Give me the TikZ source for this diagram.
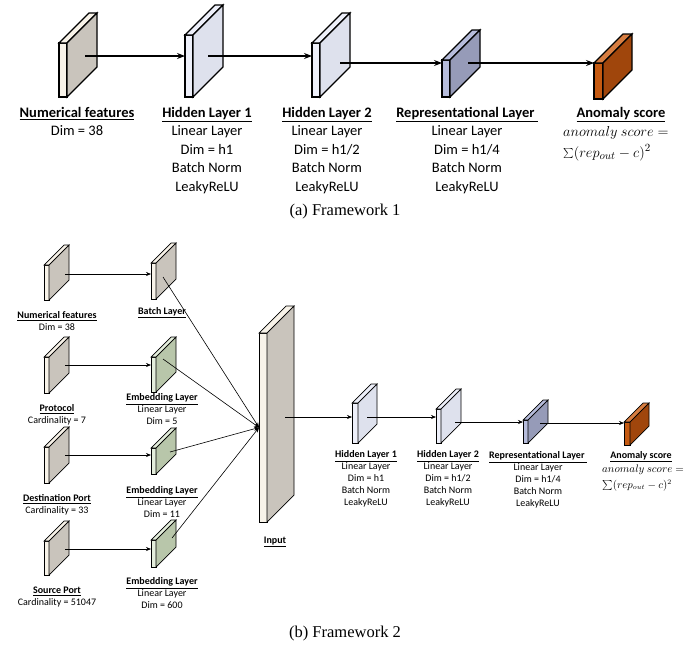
\documentclass[tikz,border=0pt]{standalone}
\usepackage{fontspec}
\setmainfont{Carlito}
\newfontfamily\capfont{Liberation Serif}
\usepackage{tikz}
\usetikzlibrary{arrows.meta,calc,positioning}
\definecolor{slabcream}{RGB}{248,243,233}
\definecolor{slabtaupe}{RGB}{201,196,188}
\definecolor{slablav}{RGB}{238,240,250}
\definecolor{slablavside}{RGB}{222,225,237}
\definecolor{slabrep}{RGB}{182,188,219}
\definecolor{slabrepside}{RGB}{150,155,184}
\definecolor{slaborange}{RGB}{197,90,17}
\definecolor{slaborangeside}{RGB}{160,70,12}
\definecolor{slaborangetop}{RGB}{215,125,65}
\definecolor{slabgreen}{RGB}{228,238,220}
\definecolor{slabgreenside}{RGB}{184,198,170}
\tikzset{slab/.style={draw,inner sep=0pt,outer sep=0pt},
         link/.style={-{Stealth[length=8pt,width=6pt]}},
         small link/.style={-{Stealth[length=5pt,width=4pt]}},
         lab/.style={align=center,inner sep=0pt,anchor=north,font=\fontsize{14.5}{18.5}\selectfont},
         small lab/.style={lab,font=\fontsize{10}{12}\selectfont},
         eq/.style={align=left,inner sep=0pt,anchor=north west,font=\fontsize{15.5}{18}\selectfont},
         small eq/.style={eq,font=\fontsize{10.5}{11}\selectfont},
            }
% name, front corner, width, height, depth, front, side, top
\newcommand{\slab}[8]{%
  \node[slab,fill=#6,minimum width=#3pt,minimum height=#4pt,anchor=south west] (#1) at #2 {};
  \filldraw[fill=#8] (#1.north west) -- (#1.north east) -- ++(#5,-#5) -- ++(-#3,0) -- cycle;
  \filldraw[fill=#7] (#1.north east) -- (#1.south east) -- ++(#5,-#5) -- ++(0,-#4) -- cycle;
}

\begin{document}
\begin{tikzpicture}[x=1pt,y=-1pt]
    \useasboundingbox (0,0) rectangle (692,654);

    % Framework 1
    \begin{scope}[line width=1.1pt]
    \slab{nf}{(59,97)}{8}{54}{30}{slabcream}{slabtaupe}{slabcream}
    \slab{h1}{(185,97)}{8}{62}{30}{slablav}{slablavside}{slablav}
    \slab{h2}{(312,97)}{8}{54}{30}{slablav}{slablavside}{slablav}
    \slab{rep}{(442,97)}{8}{37}{30}{slabrep}{slabrepside}{slabrep}
    \slab{an}{(594,99)}{9}{36}{29}{slaborange}{slaborangeside}{slaborangetop}

    \coordinate (nf-o) at (85,56);
    \coordinate (h1-o) at (208,56);
    \coordinate (h2-o) at (340,63);
    \coordinate (rep-o) at (468,63);
    \draw[link] (nf-o) -- (nf-o -| h1.west);
    \draw[link] (h1-o) -- (h1-o -| h2.west);
    \draw[link] (h2-o) -- (h2-o -| rep.west);
    \draw[link] (rep-o) -- (rep-o -| an.west);
    \end{scope}

    \node[lab] (nf-lab) at (77,107) {\underline{\textbf{Numerical features}}\\Dim = 38};
    \node[lab] (h1-lab) at (207,107) {\underline{\textbf{Hidden Layer 1}}\\Linear Layer\\Dim = h1\\Batch Norm\\LeakyReLU};
    \node[lab] (h2-lab) at (327,107) {\underline{\textbf{Hidden Layer 2}}\\Linear Layer\\Dim = h1/2\\Batch Norm\\LeakyReLU};
    \node[lab] (rep-lab) at (467,107) {\underline{\textbf{Representational Layer\ }}\\Linear Layer\\Dim = h1/4\\Batch Norm\\LeakyReLU};
    \node[lab] (an-lab) at (621,107) {\underline{\textbf{Anomaly score}}};
    \node[eq] (an-eq) at (563,126) {$anomaly\ score =$\\[3pt]$\sum(rep_{out}-c)^2$};

    \node[font=\capfont\fontsize{16.5}{20}\selectfont] (cap-a) at (345,212) {(a) Framework 1};

    % Framework 2
    \begin{scope}[line width=0.7pt]
    \slab{nfb}{(44,300)}{5}{35}{20}{slabcream}{slabtaupe}{slabcream}
    \slab{pr}{(44,393)}{5}{36}{20}{slabcream}{slabtaupe}{slabcream}
    \slab{dp}{(44,483)}{5}{36}{20}{slabcream}{slabtaupe}{slabcream}
    \slab{sp}{(44,575)}{5}{34}{20}{slabcream}{slabtaupe}{slabcream}
    \slab{bl}{(151,299)}{5}{36}{20}{slabcream}{slabtaupe}{slabcream}
    \slab{e1}{(151,392)}{5}{35}{20}{slabgreen}{slabgreenside}{slabgreen}
    \slab{e2}{(151,474)}{5}{26}{20}{slabgreen}{slabgreenside}{slabgreen}
    \slab{e3}{(151,567)}{5}{27}{20}{slabgreen}{slabgreenside}{slabgreen}
    \slab{inp}{(259,522)}{8}{189}{27}{slabcream}{slabtaupe}{slabcream}
    \slab{hb1}{(352,443)}{6}{40}{19}{slablav}{slablavside}{slablav}
    \slab{hb2}{(436,443)}{5}{34}{20}{slablav}{slablavside}{slablav}
    \slab{rb}{(523,443)}{5}{23}{20}{slabrep}{slabrepside}{slabrep}
    \slab{ab}{(624,445)}{6}{23}{19}{slaborange}{slaborangeside}{slaborangetop}
    \end{scope}

    \begin{scope}[line width=0.6pt]
    \coordinate (nfb-o) at (65,274);
    \coordinate (pr-o) at (65,365);
    \coordinate (dp-o) at (65,455);
    \coordinate (sp-o) at (65,549);
    \draw[small link] (nfb-o) -- (nfb-o -| bl.west);
    \draw[small link] (pr-o) -- (pr-o -| e1.west);
    \draw[small link] (dp-o) -- (dp-o -| e2.west);
    \draw[small link] (sp-o) -- (sp-o -| e3.west);

    \coordinate (bl-o) at (163,277);
    \coordinate (e1-o) at (163,359);
    \coordinate (e2-o) at (170,452);
    \coordinate (e3-o) at (172,538);
    \draw[small link] (bl-o) -- (inp.west);
    \draw[small link] (e1-o) -- (inp.west);
    \draw[small link] (e2-o) -- (inp.west);
    \draw[small link] (e3-o) -- (inp.west);

    \coordinate (inp-o) at (285,417);
    \coordinate (hb1-o) at (367,417);
    \coordinate (hb2-o) at (455,422);
    \coordinate (rb-o) at (540,423);
    \draw[small link] (inp-o) -- (inp-o -| hb1.west);
    \draw[small link] (hb1-o) -- (hb1-o -| hb2.west);
    \draw[small link] (hb2-o) -- (hb2-o -| rb.west);
    \draw[small link] (rb-o) -- (rb-o -| ab.west);
    \end{scope}

    \node[small lab] (nfb-lab) at (57,311.5) {\underline{\textbf{Numerical features}}\\Dim = 38};
    \node[small lab] (pr-lab) at (57,404.5) {\underline{\textbf{Protocol}}\\Cardinality = 7};
    \node[small lab] (dp-lab) at (57,494.5) {\underline{\textbf{Destination Port}}\\Cardinality = 33};
    \node[small lab] (sp-lab) at (57,586.5) {\underline{\textbf{Source Port}}\\Cardinality = 51047};
    \node[small lab] (bl-lab) at (162,307.5) {\underline{\textbf{Batch Layer}}};
    \node[small lab] (e1-lab) at (162,393.5) {\underline{\textbf{Embedding Layer}}\\Linear Layer\\Dim = 5};
    \node[small lab] (e2-lab) at (162,486.5) {\underline{\textbf{Embedding Layer}}\\Linear Layer\\Dim = 11};
    \node[small lab] (e3-lab) at (162,577.5) {\underline{\textbf{Embedding Layer}}\\Linear Layer\\Dim = 600};
    \node[small lab] (inp-lab) at (275,536.5) {\underline{\textbf{Input}}};
    \node[small lab] (hb1-lab) at (366,450.5) {\underline{\textbf{Hidden Layer 1}}\\Linear Layer\\Dim = h1\\Batch Norm\\LeakyReLU};
    \node[small lab] (hb2-lab) at (448,450.5) {\underline{\textbf{Hidden Layer 2}}\\Linear Layer\\Dim = h1/2\\Batch Norm\\LeakyReLU};
    \node[small lab] (rb-lab) at (538,451.5) {\underline{\textbf{Representational Layer\ }}\\Linear Layer\\Dim = h1/4\\Batch Norm\\LeakyReLU};
    \node[small lab] (ab-lab) at (641,451) {\underline{\textbf{Anomaly score}}};
    \node[small eq] (ab-eq) at (602,465) {$anomaly\ score =$\\[4.5pt]$\sum(rep_{out}-c)^2$};

    \node[font=\capfont\fontsize{16.5}{20}\selectfont] (cap-b) at (345,634) {(b) Framework 2};

\end{tikzpicture}
\end{document}
